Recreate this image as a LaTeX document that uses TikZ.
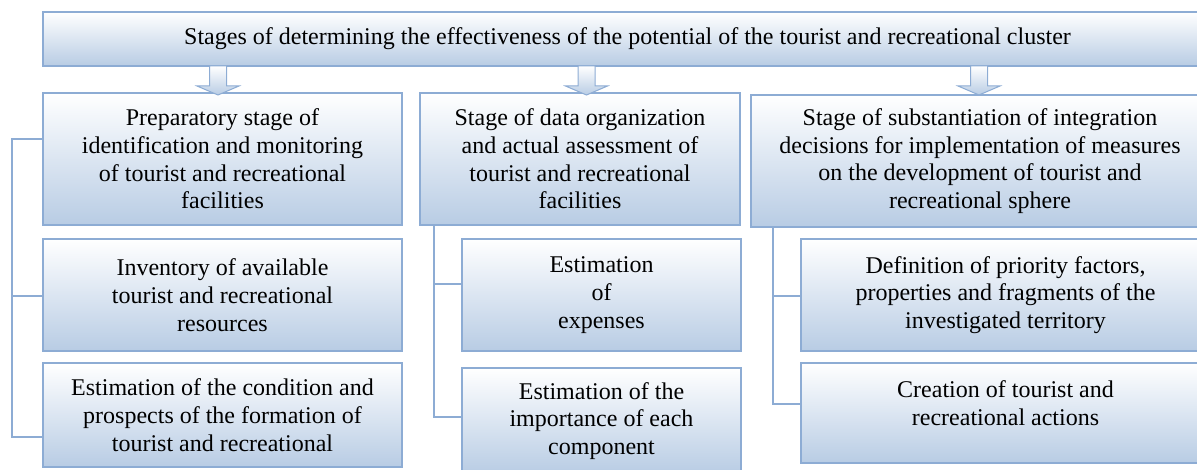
\documentclass[tikz,border=0pt]{standalone}
\usepackage{fontspec}
\setmainfont{Liberation Serif}
\usetikzlibrary{positioning}

\definecolor{boxline}{RGB}{141,172,212}
\definecolor{boxfill}{RGB}{184,204,228}

\begin{document}
\begin{tikzpicture}[x=1pt,y=-1pt,
    box/.style={draw=boxline,line width=1.8pt,top color=white,bottom color=boxfill,
      inner sep=0pt,align=center,font=\fontsize{24}{27.7}\selectfont},
    link/.style={draw=boxline,line width=1.8pt},
    blockarrow/.style={draw=boxline,line width=1pt,top color=white,bottom color=boxfill}]
  \useasboundingbox (0,0) rectangle (1197,470);
  \clip (0,0) rectangle (1197,470);

  % title
  \node[box,minimum width=1169pt,minimum height=54pt] (title) at (627.5,39)
    {Stages of determining the effectiveness of the potential of the tourist and recreational cluster};

  % first column
  \node[box,minimum width=359pt,minimum height=132pt] (prep) at (222.5,159)
    {Preparatory stage of\\identification and monitoring\\of tourist and recreational\\facilities};
  \node[box,minimum width=359pt,minimum height=112pt] (inventory) at (222.5,295)
    {Inventory of available\\tourist and recreational\\resources};
  \node[box,minimum width=359pt,minimum height=104pt] (condition) at (222.5,415)
    {Estimation of the condition and\\prospects of the formation of\\tourist and recreational};

  % second column
  \node[box,minimum width=320pt,minimum height=132pt] (organize) at (580,159)
    {Stage of data organization\\and actual assessment of\\tourist and recreational\\facilities};
  \node[box,minimum width=279pt,minimum height=112pt] (expenses) at (601.5,295)
    {Estimation\\of\\expenses};
  \node[box,minimum width=279pt,minimum height=106pt] (importance) at (601.5,421)
    {Estimation of the\\importance of each\\component};

  % third column
  \node[box,minimum width=458pt,minimum height=132pt] (decide) at (980,161)
    {Stage of substantiation of integration\\decisions for implementation of measures\\on the development of tourist and\\recreational sphere};
  \node[box,minimum width=409pt,minimum height=112pt] (priority) at (1005.5,295)
    {Definition of priority factors,\\properties and fragments of the\\investigated territory};
  \node[box,minimum width=409pt,minimum height=100pt] (actions) at (1005.5,413)
    {Creation of tourist and\\recreational actions\\[-7.7pt]\mbox{}};

  % arrows from the title
  \foreach \x in {218,586.5,979}
    \draw[blockarrow] ({\x-8.5},66) -- ({\x+8.5},66) -- ({\x+8.5},86) -- ({\x+21},86)
      -- (\x,95) -- ({\x-21},86) -- ({\x-8.5},86) -- cycle;

  % brackets
  \coordinate (top1) at (12,139);
  \coordinate (mid1) at (12,296);
  \coordinate (end1) at (12,437);
  \draw[link] (top1 -| prep.west) -- (top1) -- (end1) -- (end1 -| condition.west);
  \draw[link] (mid1) -- (mid1 -| inventory.west);

  \coordinate (top2) at (434,225);
  \coordinate (mid2) at (434,284);
  \coordinate (end2) at (434,417);
  \draw[link] (top2) -- (end2) -- (end2 -| importance.west);
  \draw[link] (mid2) -- (mid2 -| expenses.west);

  \coordinate (top3) at (773,227);
  \coordinate (mid3) at (773,296);
  \coordinate (end3) at (773,404);
  \draw[link] (top3) -- (end3) -- (end3 -| actions.west);
  \draw[link] (mid3) -- (mid3 -| priority.west);
\end{tikzpicture}
\end{document}
